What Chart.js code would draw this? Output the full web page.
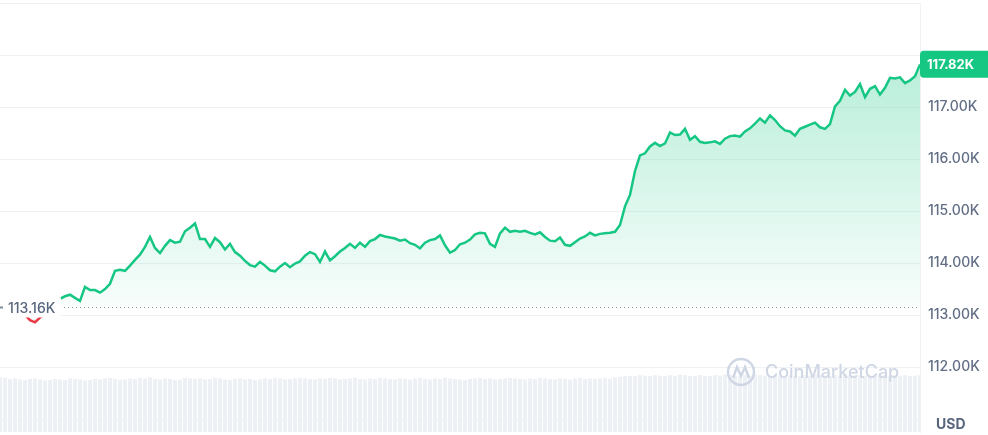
<!DOCTYPE html>
<html>
<head>
<meta charset="utf-8">
<script src="https://cdn.jsdelivr.net/npm/chart.js@4.4.1/dist/chart.umd.min.js"></script>
<style>
  html, body { margin: 0; padding: 0; background: #fff; }
  #wrap { width: 988px; height: 435px; position: relative; }
</style>
</head>
<body>
<div id="wrap"><canvas id="chart"></canvas></div>
<script>
// BTC price (thousands of USD), 24h window
const openPrice = 113.16;
const lastPrice = 117.82;

const prices = [
  113.16,113.12,113.08,113.05,113.02,113.00,112.90,112.86,112.95,113.02,
  113.10,113.22,113.31,113.36,113.39,113.33,113.27,113.54,113.48,113.48,
  113.43,113.50,113.60,113.85,113.87,113.85,113.95,114.06,114.16,114.31,
  114.50,114.29,114.19,114.33,114.44,114.39,114.41,114.61,114.68,114.76,
  114.46,114.46,114.31,114.48,114.40,114.26,114.37,114.21,114.14,114.04,
  113.96,113.93,114.02,113.95,113.86,113.84,113.93,114.00,113.92,113.99,
  114.03,114.14,114.21,114.17,114.02,114.22,114.05,114.13,114.22,114.29,
  114.37,114.29,114.39,114.31,114.42,114.46,114.54,114.51,114.49,114.47,
  114.43,114.45,114.38,114.35,114.28,114.39,114.44,114.46,114.53,114.34,
  114.20,114.25,114.36,114.39,114.45,114.55,114.58,114.57,114.37,114.31,
  114.57,114.68,114.60,114.62,114.60,114.62,114.58,114.55,114.59,114.50,
  114.43,114.42,114.49,114.35,114.33,114.40,114.47,114.51,114.58,114.53,
  114.56,114.57,114.58,114.60,114.73,115.09,115.31,115.77,116.07,116.11,
  116.24,116.31,116.25,116.30,116.51,116.46,116.47,116.58,116.37,116.44,
  116.33,116.31,116.32,116.34,116.29,116.39,116.44,116.45,116.43,116.53,
  116.59,116.68,116.78,116.70,116.84,116.75,116.63,116.55,116.53,116.45,
  116.58,116.62,116.66,116.70,116.61,116.58,116.67,117.01,117.12,117.33,
  117.22,117.29,117.44,117.19,117.35,117.40,117.24,117.37,117.56,117.55,
  117.57,117.46,117.51,117.59,117.82
];

const volumes = [
  102,101,99,100,98,97,99,100,98,96,97,99,98,97,100,99,98,96,97,99,
  98,100,101,99,97,98,100,99,101,100,102,99,98,100,99,97,98,101,100,99,
  100,98,99,101,100,98,97,99,100,98,99,97,98,100,99,101,100,98,99,100,
  101,100,99,98,100,99,101,100,98,99,100,101,99,98,100,99,101,100,99,98,
  100,99,98,100,101,99,98,100,99,101,100,99,98,97,99,100,101,99,100,98,
  99,100,101,100,99,98,100,99,101,100,99,98,100,99,98,100,101,99,100,99,
  100,101,100,102,103,104,105,104,106,105,104,106,105,104,106,105,107,106,105,104,
  106,105,104,106,105,107,106,105,104,106,105,107,106,105,104,106,105,104,106,105,
  104,106,105,107,106,105,104,106,105,107,106,105,106,104,105,107,106,105,104,106,
  105,106,104,105,106
];

const yTicks = [111, 112, 113, 114, 115, 116, 117, 118, 119];
const labels = prices.map((_, i) => i);

const GREEN = '#16c784';
const RED = '#ea3943';
const AXIS_TEXT = '#616e85';
const GRID = '#eff2f5';
const FONT = 'Inter, "Noto Sans", sans-serif';

// Overlays: open-price dotted line + label, last price badge, USD, watermark
const overlays = {
    id: 'overlays',
    afterDatasetsDraw(chart) {
        const { ctx, chartArea, scales } = chart;
        const y = scales.y;
        ctx.save();

        // dotted open price line
        const yOpen = Math.round(y.getPixelForValue(openPrice)) + 0.5;
        ctx.strokeStyle = '#8a93a6';
        ctx.lineWidth = 1;
        ctx.setLineDash([1, 3]);
        ctx.beginPath();
        ctx.moveTo(chartArea.left, yOpen);
        ctx.lineTo(chartArea.right, yOpen);
        ctx.stroke();
        ctx.setLineDash([]);

        // label on the left
        ctx.fillStyle = '#fff';
        ctx.fillRect(0, yOpen - 10, 61, 20);
        ctx.fillStyle = '#808a9d';
        ctx.fillRect(0, yOpen - 1, 3, 2);
        ctx.font = '500 14px ' + FONT;
        ctx.fillStyle = '#58667e';
        ctx.textBaseline = 'middle';
        ctx.textAlign = 'left';
        ctx.fillText(openPrice.toFixed(2) + 'K', 8, yOpen + 1);

        // last price badge
        const yLast = y.getPixelForValue(lastPrice);
        const bx = chartArea.right, bw = 988 - chartArea.right, bh = 27;
        ctx.fillStyle = GREEN;
        ctx.beginPath();
        ctx.roundRect(bx, yLast - bh / 2, bw, bh, [4, 0, 0, 4]);
        ctx.fill();
        ctx.fillStyle = '#fff';
        ctx.font = '700 13px ' + FONT;
        ctx.fillText(lastPrice.toFixed(2) + 'K', bx + 7, yLast + 1);

        // currency
        ctx.fillStyle = '#58667e';
        ctx.font = '700 14px ' + FONT;
        ctx.fillText('USD', 936, 425);

        // watermark
        ctx.strokeStyle = '#cfd6e4';
        ctx.fillStyle = '#cfd6e4';
        ctx.lineWidth = 2.5;
        ctx.beginPath();
        ctx.arc(741, 372, 13, 0, Math.PI * 2);
        ctx.stroke();
        ctx.beginPath();
        ctx.moveTo(733, 378);
        ctx.lineTo(737, 367);
        ctx.lineTo(741, 376);
        ctx.lineTo(745, 367);
        ctx.lineTo(749, 378);
        ctx.stroke();
        ctx.font = '500 18px ' + FONT;
        ctx.fillText('CoinMarketCap', 765, 373);

        ctx.restore();
    }
};

const ctx = document.getElementById('chart').getContext('2d');
new Chart(ctx, {
    type: 'line',
    data: {
        labels: labels,
        datasets: [{
            type: 'line',
            data: prices,
            yAxisID: 'y',
            order: 0,
            borderWidth: 2.5,
            pointRadius: 0,
            tension: 0,
            borderColor: GREEN,
            segment: {
                borderColor: c => (c.p0.parsed.y < openPrice && c.p1.parsed.y < openPrice) ? RED : GREEN
            },
            fill: { value: openPrice },
            backgroundColor: (c) => {
                const chart = c.chart;
                const area = chart.chartArea;
                if (!area) return 'rgba(22,199,132,0.1)';
                const yb = chart.scales.y.getPixelForValue(openPrice);
                const g = chart.ctx.createLinearGradient(0, area.top + 60, 0, yb);
                g.addColorStop(0, 'rgba(22,199,132,0.30)');
                g.addColorStop(1, 'rgba(22,199,132,0.03)');
                return g;
            }
        }, {
            type: 'bar',
            data: volumes,
            yAxisID: 'y1',
            order: 1,
            backgroundColor: '#edf0f4',
            barPercentage: 0.8,
            categoryPercentage: 1
        }]
    },
    options: {
        responsive: true,
        maintainAspectRatio: false,
        animation: false,
        devicePixelRatio: 1,
        layout: { padding: { top: 3, bottom: 3, left: 0, right: 0 } },
        plugins: { legend: { display: false }, tooltip: { enabled: false } },
        scales: {
            x: { display: false, offset: false },
            y: {
                position: 'right',
                min: 110.75,
                max: 119,
                afterBuildTicks: s => { s.ticks = yTicks.map(v => ({ value: v })); },
                afterFit: s => { s.width = 68; s.paddingTop = 0; s.paddingBottom = 0; },
                grid: { color: GRID, drawTicks: false },
                border: { display: true, color: GRID },
                ticks: {
                    padding: 8,
                    color: AXIS_TEXT,
                    font: { family: FONT, size: 14, weight: '500' },
                    callback: v => (v >= 112 && v <= 117) ? v.toFixed(2) + 'K' : ''
                }
            },
            y1: {
                display: false,
                min: 0,
                max: 800
            }
        }
    },
    plugins: [overlays]
});
</script>
</body>
</html>
